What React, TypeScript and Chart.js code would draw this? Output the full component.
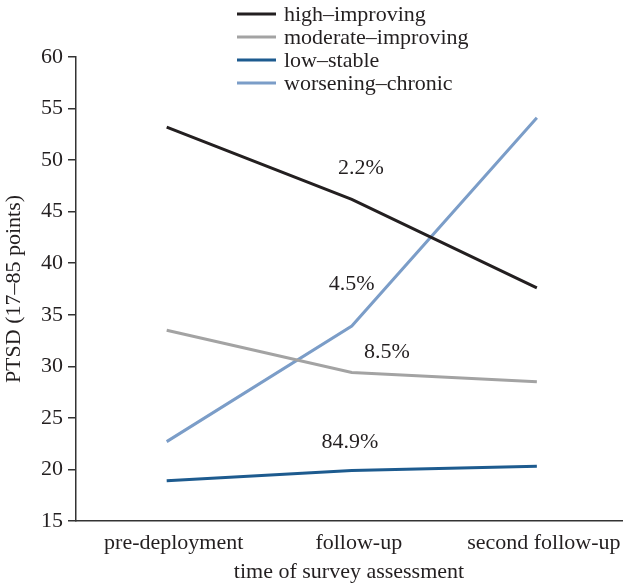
import React, { useEffect, useRef } from 'react';
import { Chart, registerables } from 'chart.js';

Chart.register(...registerables);

const categories = ['pre-deployment', 'follow-up', 'second follow-up'];
const seriesNames = ['high–improving', 'moderate–improving', 'low–stable', 'worsening–chronic'];
const highImproving = [53.2, 46.2, 37.6];
const moderateImproving = [33.5, 29.4, 28.5];
const lowStable = [18.9, 19.9, 20.3];
const worseningChronic = [22.7, 33.9, 54.1];
const seriesColors = ['#231f20', '#a3a3a3', '#1d5b8f', '#7b9dc8'];
const annotationLabels = ['2.2%', '4.5%', '8.5%', '84.9%'];
const annotationX = [1.05, 1.0, 1.19, 0.99];
const annotationY = [49.2, 38.0, 31.4, 22.6];
const yMin = 15;
const yMax = 60;
const yStep = 5;

const FONT = "'Liberation Serif', 'DejaVu Serif', serif";
const TEXT = '#231f20';
const FS = 22;

const legendPlugin = {
  id: 'customLegend',
  afterDraw(chart: any) {
    const ctx = chart.ctx;
    ctx.save();
    ctx.font = `${FS}px ${FONT}`;
    ctx.textBaseline = 'middle';
    ctx.textAlign = 'left';
    chart.data.datasets.forEach((ds: any, i: number) => {
      const y = 14 + i * 23;
      ctx.strokeStyle = ds.borderColor;
      ctx.lineWidth = 3;
      ctx.beginPath();
      ctx.moveTo(237, y);
      ctx.lineTo(276, y);
      ctx.stroke();
      ctx.fillStyle = TEXT;
      ctx.fillText(ds.label, 284, y + 1);
    });
    ctx.restore();
  },
};

const annotationPlugin = {
  id: 'pctLabels',
  afterDatasetsDraw(chart: any) {
    const ctx = chart.ctx;
    const xs = chart.scales.x;
    const ys = chart.scales.y;
    ctx.save();
    ctx.font = `${FS}px ${FONT}`;
    ctx.fillStyle = TEXT;
    ctx.textAlign = 'center';
    ctx.textBaseline = 'middle';
    annotationLabels.forEach((t, i) => {
      ctx.fillText(t, xs.getPixelForValue(annotationX[i]), ys.getPixelForValue(annotationY[i]));
    });
    ctx.restore();
  },
};

export default function App() {
  const ref = useRef<HTMLCanvasElement | null>(null);
  useEffect(() => {
    if (!ref.current) return;
    const series = [highImproving, moderateImproving, lowStable, worseningChronic];
    const chart = new Chart(ref.current, {
      type: 'line',
      data: {
        datasets: series.map((vals, i) => ({
          label: seriesNames[i],
          data: vals.map((v, j) => ({ x: j, y: v })),
          borderColor: seriesColors[i],
          backgroundColor: seriesColors[i],
          borderWidth: 3,
          pointRadius: 0,
          tension: 0,
          fill: false,
        })),
      },
      options: {
        animation: false,
        responsive: false,
        maintainAspectRatio: false,
        layout: { padding: { top: 57, right: 4, left: 0, bottom: 0 } },
        plugins: {
          legend: { display: false },
          tooltip: { enabled: false },
        },
        scales: {
          x: {
            type: 'linear',
            min: -0.49,
            max: 2.46,
            afterBuildTicks: (scale: any) => {
              scale.ticks = categories.map((_, i) => ({ value: i }));
            },
            afterFit: (scale: any) => {
              scale.height = 63;
            },
            grid: { display: false },
            border: { display: true, color: '#333', width: 1.5 },
            ticks: {
              autoSkip: false,
              maxRotation: 0,
              minRotation: 0,
              padding: 1,
              labelOffset: 7,
              color: TEXT,
              font: { family: FONT, size: FS },
              callback: (v: any) => categories[v] ?? '',
            },
            title: {
              display: true,
              text: 'time of survey assessment',
              color: TEXT,
              font: { family: FONT, size: FS },
              padding: { top: 0, bottom: -1 },
            },
          },
          y: {
            type: 'linear',
            min: yMin,
            max: yMax,
            afterFit: (scale: any) => {
              scale.width = 76;
            },
            grid: {
              display: true,
              drawOnChartArea: false,
              drawTicks: true,
              tickLength: 8,
              color: '#333',
              lineWidth: 1.5,
            },
            border: { display: true, color: '#333', width: 1.5 },
            ticks: {
              stepSize: yStep,
              padding: 5,
              color: TEXT,
              font: { family: FONT, size: FS },
            },
            title: {
              display: true,
              text: 'PTSD (17–85 points)',
              color: TEXT,
              font: { family: FONT, size: FS },
              padding: { top: 1, bottom: 0 },
            },
          },
        },
      },
      plugins: [annotationPlugin, legendPlugin],
    } as any);
    return () => chart.destroy();
  }, []);
  return (
    <div style={{ position: 'fixed', left: 0, top: 0, width: 626, height: 584, background: '#fff' }}>
      <canvas ref={ref} width={626} height={584} style={{ display: 'block', width: 626, height: 584 }} />
    </div>
  );
}
